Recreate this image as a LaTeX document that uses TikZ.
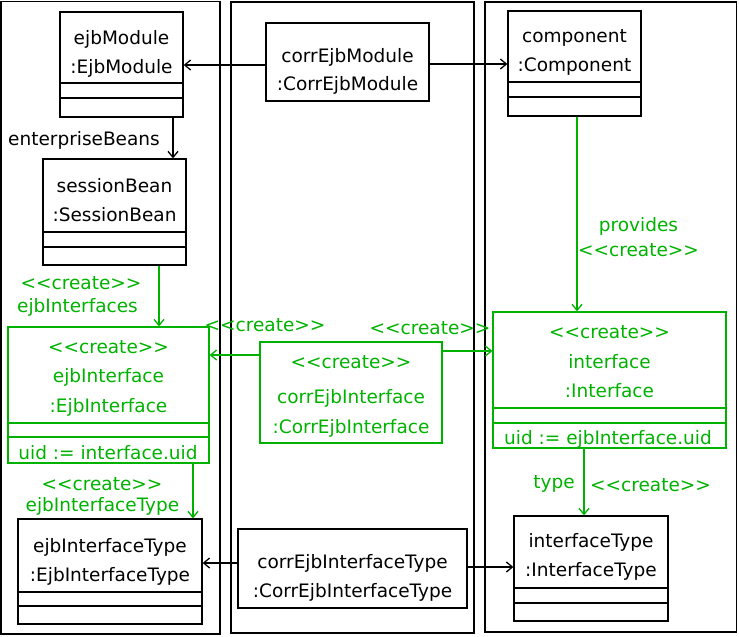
\documentclass[tikz,border=0pt]{standalone}
\usepackage{fontspec}
\setmainfont{DejaVu Sans}
\usetikzlibrary{arrows.meta,calc}
\definecolor{cgreen}{RGB}{0,178,0}
\begin{document}
\begin{tikzpicture}[x=1pt,y=-1pt,
  every node/.style={font=\fontsize{18.5}{21}\selectfont, inner sep=0pt},
  blk/.style={draw=black, line width=1.3pt, inner sep=0pt},
  grn/.style={draw=cgreen, line width=1.3pt, inner sep=0pt},
  panel/.style={draw=black, line width=1.3pt},
  txt/.style={anchor=base},
  gtxt/.style={anchor=base, text=cgreen},
  arr/.style={draw=black, line width=1.3pt, -{Straight Barb[length=6pt,width=10pt]}},
  garr/.style={draw=cgreen, line width=1.3pt, -{Straight Barb[length=6pt,width=10pt]}},
  cline/.style={draw=black, line width=1.3pt},
  gline/.style={draw=cgreen, line width=1.3pt}]
\useasboundingbox (0,0) rectangle (739,637);
% panels
\draw[panel] (1,1.5) rectangle (220,634);
\draw[panel] (231,2) rectangle (474,633);
\draw[panel] (485,2) rectangle (736.5,632);
% boxes
\node[blk, minimum width=123pt, minimum height=105pt] (ejbModule) at (121.5,64.5) {};
\node[blk, minimum width=143pt, minimum height=106pt] (sessionBean) at (114.5,212) {};
\node[grn, minimum width=201pt, minimum height=136pt] (ejbInterface) at (108.5,395) {};
\node[blk, minimum width=184pt, minimum height=105pt] (ejbInterfaceType) at (110,571.5) {};
\node[blk, minimum width=163pt, minimum height=78pt] (corrEjbModule) at (347.5,62) {};
\node[grn, minimum width=182pt, minimum height=101pt] (corrEjbInterface) at (351,392.5) {};
\node[blk, minimum width=229pt, minimum height=79pt] (corrEjbInterfaceType) at (352.5,568.5) {};
\node[blk, minimum width=133pt, minimum height=105pt] (component) at (574.5,63.5) {};
\node[grn, minimum width=233pt, minimum height=136pt] (interface) at (609.5,380) {};
\node[blk, minimum width=154pt, minimum height=105pt] (interfaceType) at (591,568.5) {};
% compartments
\foreach \n/\a/\b in {ejbModule/83/98, sessionBean/232/247, ejbInterfaceType/592/606, component/82/97, interfaceType/588/603}
  {\draw[cline] (\n.west |- 0,\a) -- (\n.east |- 0,\a);
   \draw[cline] (\n.west |- 0,\b) -- (\n.east |- 0,\b);}
\foreach \n/\a/\b in {ejbInterface/423/437, interface/408/423}
  {\draw[gline] (\n.west |- 0,\a) -- (\n.east |- 0,\a);
   \draw[gline] (\n.west |- 0,\b) -- (\n.east |- 0,\b);}
% texts
\node[txt] (t1) at (121.5,44) {ejbModule};
\node[txt] (t2) at (121.5,73) {:EjbModule};
\node[txt] (t3) at (114.5,192) {sessionBean};
\node[txt] (t4) at (114.5,221) {:SessionBean};
\node[gtxt] (t5) at (108.5,353) {<{}<create>{}>};
\node[gtxt] (t6) at (108.5,382) {ejbInterface};
\node[gtxt] (t7) at (108.5,412) {:EjbInterface};
\node[gtxt] (t8) at (108,459) {uid := interface.uid};
\node[txt] (t9) at (110,552) {ejbInterfaceType};
\node[txt] (t10) at (110,581) {:EjbInterfaceType};
\node[txt] (t11) at (347.5,62) {corrEjbModule};
\node[txt] (t12) at (347.5,90) {:CorrEjbModule};
\node[gtxt] (t13) at (351,368) {<{}<create>{}>};
\node[gtxt] (t14) at (351,403) {corrEjbInterface};
\node[gtxt] (t15) at (351,433) {:CorrEjbInterface};
\node[txt] (t16) at (352.5,568) {corrEjbInterfaceType};
\node[txt] (t17) at (352.5,597) {:CorrEjbInterfaceType};
\node[txt] (t18) at (574.5,42) {component};
\node[txt] (t19) at (574.5,71) {:Component};
\node[gtxt] (t20) at (609.5,338) {<{}<create>{}>};
\node[gtxt] (t21) at (609.5,368) {interface};
\node[gtxt] (t22) at (609.5,397) {:Interface};
\node[gtxt] (t23) at (608,444) {uid := ejbInterface.uid};
\node[txt] (t24) at (591,547) {interfaceType};
\node[txt] (t25) at (591,576) {:InterfaceType};
% labels
\node[anchor=base west] (l1) at (8,145) {enterpriseBeans};
\node[gtxt] (l2) at (81,289) {<{}<create>{}>};
\node[gtxt] (l3) at (77.5,312) {ejbInterfaces};
\node[gtxt] (l4) at (102,490) {<{}<create>{}>};
\node[gtxt] (l5) at (102.5,511) {ejbInterfaceType};
\node[gtxt] (l6) at (265,331) {<{}<create>{}>};
\node[gtxt] (l7) at (430,334) {<{}<create>{}>};
\node[gtxt] (l8) at (638.5,231) {provides};
\node[gtxt] (l9) at (638.5,256) {<{}<create>{}>};
\node[gtxt] (l10) at (554,488) {type};
\node[gtxt] (l11) at (650.5,491) {<{}<create>{}>};
% connectors
\draw[arr] (corrEjbModule.west |- 0,65) -- (ejbModule.east |- 0,65);
\draw[arr] (corrEjbModule.east |- 0,64) -- (component.west |- 0,64);
\draw[arr] (ejbModule.south -| 173,0) -- (sessionBean.north -| 173,0);
\draw[garr] (sessionBean.south -| 159,0) -- (ejbInterface.north -| 159,0);
\draw[garr] (ejbInterface.south -| 193,0) -- (ejbInterfaceType.north -| 193,0);
\draw[garr] (corrEjbInterface.west |- 0,355) -- (ejbInterface.east |- 0,355);
\draw[garr] (corrEjbInterface.east |- 0,351) -- (interface.west |- 0,351);
\draw[arr] (corrEjbInterfaceType.west |- 0,563) -- (ejbInterfaceType.east |- 0,563);
\draw[arr] (corrEjbInterfaceType.east |- 0,567) -- (interfaceType.west |- 0,567);
\draw[garr] (component.south -| 577,0) -- (interface.north -| 577,0);
\draw[garr] (interface.south -| 584,0) -- (interfaceType.north -| 584,0);
\end{tikzpicture}
\end{document}
